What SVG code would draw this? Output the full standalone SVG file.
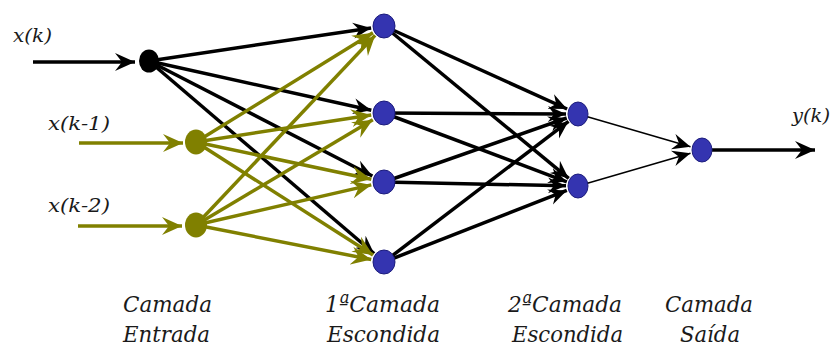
<svg xmlns="http://www.w3.org/2000/svg" width="831" height="349" viewBox="0 0 831 349">
  <style>
    .k { stroke: #000; stroke-width: 3.5; fill: none; }
    .kt { stroke: #000; stroke-width: 1.5; fill: none; }
    .o { stroke: #808000; stroke-width: 3.5; fill: none; }
    .blue { fill: #3434b0; stroke: #1c1c7c; stroke-width: 1; }
    .lbl { font-family: "DejaVu Serif", "Liberation Serif", serif; font-style: italic; fill: #1a1a1a; }
  </style>
  <defs>
    <!-- notched arrowheads, tip at the path end -->
    <marker id="ahK" viewBox="-18 -9 18 18" refX="0" refY="0" markerWidth="18" markerHeight="18" markerUnits="userSpaceOnUse" orient="auto">
      <path d="M0,0 L-18,-8 L-12,0 L-18,8 Z" fill="#000"/>
    </marker>
    <marker id="ahO" viewBox="-20 -10 20 20" refX="0" refY="0" markerWidth="20" markerHeight="20" markerUnits="userSpaceOnUse" orient="auto">
      <path d="M0,0 L-20,-9 L-13,0 L-20,9 Z" fill="#808000"/>
    </marker>
    <marker id="ahIn" viewBox="-20 -10 20 20" refX="0" refY="0" markerWidth="20" markerHeight="20" markerUnits="userSpaceOnUse" orient="auto">
      <path d="M0,0 L-20,-9 L-13,0 L-20,9 Z" fill="#000"/>
    </marker>
  </defs>

  <rect width="831" height="349" fill="#fff"/>

  <g id="connectors">
    <!-- external inputs and output -->
    <line class="k" x1="33" y1="62" x2="135" y2="62" marker-end="url(#ahIn)"/>
    <line class="o" x1="79" y1="143" x2="183" y2="143" marker-end="url(#ahO)"/>
    <line class="o" x1="78" y1="226" x2="182" y2="226" marker-end="url(#ahO)"/>
    <line class="k" x1="712" y1="150" x2="815" y2="150" marker-end="url(#ahIn)"/>

    <!-- input x(k) to first hidden layer -->
    <line class="k" x1="149" y1="61" x2="371.1" y2="27.9" marker-end="url(#ahK)"/>
    <line class="k" x1="149" y1="61" x2="371.3" y2="110.2" marker-end="url(#ahK)"/>
    <line class="k" x1="149" y1="61" x2="372.4" y2="176" marker-end="url(#ahK)"/>
    <line class="k" x1="149" y1="61" x2="374.1" y2="253.5" marker-end="url(#ahK)"/>

    <!-- delayed inputs to first hidden layer -->
    <line class="o" x1="196" y1="142" x2="372.9" y2="32.8" marker-end="url(#ahO)"/>
    <line class="o" x1="196" y1="142" x2="371.2" y2="115" marker-end="url(#ahO)"/>
    <line class="o" x1="196" y1="142" x2="371.3" y2="179.3" marker-end="url(#ahO)"/>
    <line class="o" x1="196" y1="142" x2="373" y2="255" marker-end="url(#ahO)"/>
    <line class="o" x1="196" y1="225" x2="375.1" y2="35.4" marker-end="url(#ahO)"/>
    <line class="o" x1="196" y1="225" x2="372.8" y2="119.7" marker-end="url(#ahO)"/>
    <line class="o" x1="196" y1="225" x2="371.3" y2="184.9" marker-end="url(#ahO)"/>
    <line class="o" x1="196" y1="225" x2="371.2" y2="259.5" marker-end="url(#ahO)"/>

    <!-- first hidden layer to second hidden layer -->
    <line class="k" x1="384" y1="26" x2="567.1" y2="109" marker-end="url(#ahK)"/>
    <line class="k" x1="384" y1="26" x2="568.7" y2="178.4" marker-end="url(#ahK)"/>
    <line class="k" x1="384" y1="113" x2="566" y2="114" marker-end="url(#ahK)"/>
    <line class="k" x1="384" y1="113" x2="566.8" y2="181.8" marker-end="url(#ahK)"/>
    <line class="k" x1="384" y1="182" x2="566.7" y2="118" marker-end="url(#ahK)"/>
    <line class="k" x1="384" y1="182" x2="566" y2="185.8" marker-end="url(#ahK)"/>
    <line class="k" x1="384" y1="262" x2="568.5" y2="121.3" marker-end="url(#ahK)"/>
    <line class="k" x1="384" y1="262" x2="566.8" y2="190.4" marker-end="url(#ahK)"/>

    <!-- second hidden layer to output -->
    <line class="kt" x1="578" y1="114" x2="690.5" y2="146.7" marker-end="url(#ahK)"/>
    <line class="kt" x1="578" y1="186" x2="690.5" y2="153.3" stroke-width="2.2" marker-end="url(#ahK)"/>
  </g>

  <g id="in-xk"><ellipse cx="149" cy="61" rx="10" ry="11.5" fill="#000"/></g>
  <g id="in-xk1"><ellipse cx="196" cy="142" rx="11" ry="12.5" fill="#808000"/></g>
  <g id="in-xk2"><ellipse cx="196" cy="225" rx="11" ry="12.5" fill="#808000"/></g>

  <g id="h1-1"><ellipse class="blue" cx="384" cy="26" rx="11" ry="12"/></g>
  <g id="h1-2"><ellipse class="blue" cx="384" cy="113" rx="11" ry="12"/></g>
  <g id="h1-3"><ellipse class="blue" cx="384" cy="182" rx="11" ry="12"/></g>
  <g id="h1-4"><ellipse class="blue" cx="384" cy="262" rx="11" ry="12"/></g>

  <g id="h2-1"><ellipse class="blue" cx="578" cy="114" rx="10" ry="12"/></g>
  <g id="h2-2"><ellipse class="blue" cx="578" cy="186" rx="10" ry="12"/></g>

  <g id="out"><ellipse class="blue" cx="702" cy="150" rx="10" ry="12"/></g>

  <g id="labels" class="lbl">
    <g font-size="18">
      <text x="13" y="42" textLength="39" lengthAdjust="spacingAndGlyphs">x(k)</text>
      <text x="48" y="130" textLength="62" lengthAdjust="spacingAndGlyphs">x(k-1)</text>
      <text x="48" y="212" textLength="62" lengthAdjust="spacingAndGlyphs">x(k-2)</text>
      <text x="792" y="122" textLength="38" lengthAdjust="spacingAndGlyphs">y(k)</text>
    </g>
    <g font-size="23">
      <text x="123" y="312" textLength="89" lengthAdjust="spacingAndGlyphs">Camada</text>
      <text x="123" y="342" textLength="87" lengthAdjust="spacingAndGlyphs">Entrada</text>
      <text x="325" y="312" textLength="115" lengthAdjust="spacingAndGlyphs">1ªCamada</text>
      <text x="327" y="342" textLength="113" lengthAdjust="spacingAndGlyphs">Escondida</text>
      <text x="508" y="312" textLength="114" lengthAdjust="spacingAndGlyphs">2ªCamada</text>
      <text x="512" y="342" textLength="111" lengthAdjust="spacingAndGlyphs">Escondida</text>
      <text x="665" y="312" textLength="88" lengthAdjust="spacingAndGlyphs">Camada</text>
      <text x="680" y="342" textLength="60" lengthAdjust="spacingAndGlyphs">Saída</text>
    </g>
  </g>
</svg>
